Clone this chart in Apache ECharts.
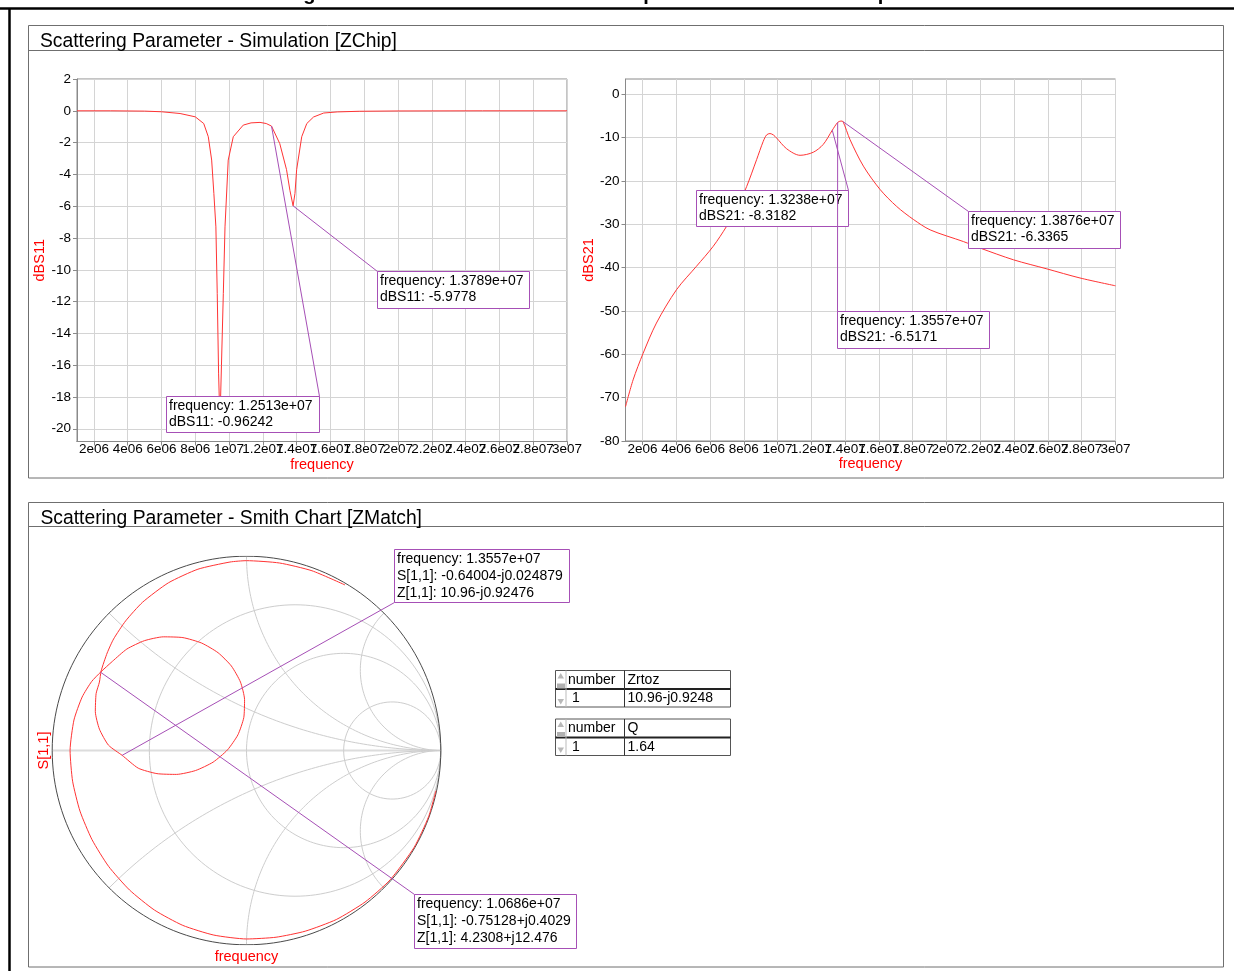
<!DOCTYPE html>
<html>
<head>
<meta charset="utf-8">
<script src="https://cdn.jsdelivr.net/npm/echarts@6/dist/echarts.min.js"></script>
<style>
  html, body { margin: 0; padding: 0; background: #ffffff; }
  #c { width: 1234px; height: 971px; }
</style>
</head>
<body>
<div id="c"></div>
<script>
// ---------------- data ----------------
// frequency tick positions (Hz) shared by both S-parameter plots
const freqTicks = [2e6, 4e6, 6e6, 8e6, 1e7, 1.2e7, 1.4e7, 1.6e7, 1.8e7, 2e7, 2.2e7, 2.4e7, 2.6e7, 2.8e7, 3e7];
const s11Ticks = [2, 0, -2, -4, -6, -8, -10, -12, -14, -16, -18, -20];
const s21Ticks = [0, -10, -20, -30, -40, -50, -60, -70, -80];

// dBS11 sweep
const s11Freq = [1.0e6, 3.0e6, 5.0e6, 6.0e6, 7.1e6, 8.0e6, 8.5e6, 8.77e6, 8.97e6, 9.1e6, 9.22e6, 9.3e6, 9.38e6, 9.46e6,
  9.55e6, 9.66e6, 9.76e6, 9.95e6, 1.025e7, 1.084e7, 1.13e7, 1.183e7, 1.22e7, 1.2513e7, 1.3e7, 1.34e7, 1.36e7, 1.3789e7,
  1.39e7, 1.40e7, 1.43e7, 1.46e7, 1.50e7, 1.56e7, 1.64e7, 1.77e7, 2.0e7, 2.5e7, 3.0e7];
const s11dB = [0, 0, -0.02, -0.06, -0.17, -0.38, -0.8, -1.63, -3.1, -5.2, -7.3, -11.5, -16.5, -19.6,
  -16.0, -11.5, -7.3, -3.1, -1.63, -0.9, -0.76, -0.73, -0.8, -0.96242, -2.06, -3.7, -5.0, -5.9778,
  -5.2, -3.7, -1.63, -0.8, -0.39, -0.14, -0.07, -0.03, -0.01, 0, 0];

// dBS21 sweep
const s21Freq = [1.0e6, 1.45e6, 2.04e6, 2.83e6, 4.02e6, 5.2e6, 6.19e6, 6.98e6, 7.6e6, 8.17e6, 8.76e6, 9.15e6, 9.35e6,
  9.55e6, 9.75e6, 9.94e6, 1.054e7, 1.133e7, 1.211e7, 1.27e7, 1.3238e7, 1.3557e7, 1.375e7, 1.3876e7, 1.429e7,
  1.508e7, 1.607e7, 1.705e7, 1.804e7, 1.903e7, 2.1e7, 2.199e7, 2.396e7, 2.594e7, 2.79e7, 3.0e7];
const s21dB = [-72.1, -65.9, -59.8, -52.8, -45.1, -39.7, -35.1, -30.5, -26.2, -21.3, -15.1, -10.9, -9.4,
  -9.08, -9.4, -10.1, -12.6, -14.1, -13.4, -11.6, -8.3182, -6.5171, -6.2, -6.3365, -10.5,
  -16.6, -22.0, -25.9, -28.9, -31.3, -34.0, -35.5, -38.2, -40.3, -42.4, -44.2];

// S[1,1] trajectory on the Smith chart (real, imaginary), in sweep order
const smithRe = [0.975, 0.937, 0.863, 0.739, 0.610, 0.462, 0.302, 0.152, 0.0, -0.168, -0.328, -0.474, -0.602, -0.710,
  -0.795, -0.857, -0.895, -0.908, -0.888, -0.846, -0.797, -0.75128,
  -0.690, -0.616, -0.526, -0.428, -0.327, -0.231, -0.146, -0.078, -0.031, -0.010, -0.014, -0.044, -0.098, -0.172,
  -0.262, -0.360, -0.461, -0.557, -0.64004, -0.710, -0.757, -0.778, -0.774, -0.757, -0.748,
  -0.717, -0.684, -0.622, -0.535, -0.402, -0.250, -0.085, 0.0, 0.170, 0.337, 0.507];
const smithIm = [-0.207, -0.341, -0.498, -0.666, -0.780, -0.870, -0.930, -0.961, -0.970, -0.950, -0.900, -0.821, -0.718, -0.596,
  -0.459, -0.312, -0.158, 0.0, 0.157, 0.275, 0.355, 0.4029,
  0.459, 0.522, 0.565, 0.585, 0.581, 0.553, 0.503, 0.435, 0.352, 0.262, 0.169, 0.081, 0.003, -0.060,
  -0.103, -0.123, -0.119, -0.091, -0.024879, 0.027, 0.110, 0.200, 0.293, 0.352, 0.410,
  0.502, 0.574, 0.667, 0.763, 0.863, 0.933, 0.970, 0.977, 0.965, 0.925, 0.852];

// marker readouts
const s11MarkFreq = [1.2513e7, 1.3789e7];
const s11MarkVal = [-0.96242, -5.9778];
const s21MarkFreq = [1.3238e7, 1.3557e7, 1.3876e7];
const s21MarkVal = [-8.3182, -6.5171, -6.3365];
const smithMarkFreq = [1.3557e7, 1.0686e7];
const smithMarkRe = [-0.64004, -0.75128];
const smithMarkIm = [-0.024879, 0.4029];
const smithMarkZ = ['10.96-j0.92476', '4.2308+j12.476'];

// result tables
const zrtozHeader = ['number', 'Zrtoz'];
const zrtozRow = ['1', '10.96-j0.9248'];
const qHeader = ['number', 'Q'];
const qRow = ['1', '1.64'];

// ---------------- styling ----------------
const FONT = '"Liberation Sans", Arial, Helvetica, sans-serif';
const RED = '#ff0000';
const CURVE = '#ff3434';
const PURPLE = '#a64fb6';
const SPLIT = '#d4d4d4';
const AXIS = '#8a8a8a';
const PANEL = '#6f6f6f';

function fmtTick(v) {
  const e = Math.floor(Math.log10(v) + 1e-9);
  const m = +(v / Math.pow(10, e)).toFixed(3);
  return m + 'e' + String(e).padStart(2, '0');
}
function fmtFreq(f) {
  const parts = f.toExponential(4).split('e');
  return parts[0] + 'e' + parts[1][0] + parts[1].slice(1).padStart(2, '0');
}
function fmtComplex(re, im) {
  return re + (im < 0 ? '-j' : '+j') + Math.abs(im);
}
function zip(a, b) { return a.map((v, i) => [v, b[i]]); }

// The frequency labels are denser than their own width, so they run into each other.
// Alternate ticks go on two coincident bottom axes so every label is kept.
const freqTicksA = freqTicks.filter((v, i) => i % 2 === 0);
const freqTicksB = freqTicks.filter((v, i) => i % 2 === 1);

function freqAxis(gridIndex, ticks, withName) {
  return {
    type: 'value', gridIndex, min: 1e6, max: 3e7, position: 'bottom', offset: 0,
    name: withName ? 'frequency' : '', nameLocation: 'middle', nameGap: 15,
    nameTextStyle: { color: RED, fontSize: 14.5, fontFamily: FONT },
    axisLine: { show: true, onZero: false, lineStyle: { color: AXIS } },
    axisTick: { show: true, length: 4, customValues: ticks, lineStyle: { color: AXIS } },
    axisLabel: { customValues: ticks, formatter: fmtTick, color: '#000', fontSize: 13.5, fontFamily: FONT,
      margin: 1, showMinLabel: true, showMaxLabel: true, hideOverlap: false },
    splitLine: { show: true, lineStyle: { color: SPLIT } }
  };
}
function dbAxis(gridIndex, min, max, ticks, name) {
  return {
    type: 'value', gridIndex, min, max,
    name, nameLocation: 'middle', nameGap: 20,
    nameTextStyle: { color: RED, fontSize: 14.5, fontFamily: FONT },
    axisLine: { show: true, onZero: false, lineStyle: { color: AXIS } },
    axisTick: { show: true, length: 4, customValues: ticks, lineStyle: { color: AXIS } },
    axisLabel: { customValues: ticks, color: '#000', fontSize: 13.5, fontFamily: FONT, margin: 6,
      showMinLabel: true, showMaxLabel: true },
    splitLine: { show: true, lineStyle: { color: SPLIT } }
  };
}
function smithAxis(gridIndex, name, gap) {
  return {
    type: 'value', gridIndex, min: -1, max: 1, name, nameLocation: 'middle', nameGap: gap,
    nameTextStyle: { color: RED, fontSize: 14.5, fontFamily: FONT },
    axisLine: { show: false, onZero: false }, axisTick: { show: false }, axisLabel: { show: false }, splitLine: { show: false }
  };
}

// Smith chart coordinate grid: constant-resistance circles and constant-reactance arcs
function resistanceCircle(r) {
  const cx = r / (1 + r), rad = 1 / (1 + r), pts = [];
  for (let i = 0; i <= 360; i += 2) {
    const a = i * Math.PI / 180;
    pts.push([cx + rad * Math.cos(a), rad * Math.sin(a)]);
  }
  return pts;
}
function reactanceArc(x) {
  const c = 1 / Math.abs(x), pts = [];
  for (let d = -90; d >= -270; d -= 0.5) {
    const a = d * Math.PI / 180;
    const re = 1 + c * Math.cos(a), im = c + c * Math.sin(a);
    if (re * re + im * im > 1.0005) break;
    pts.push([re, x > 0 ? im : -im]);
  }
  return pts;
}
const smithR = [1 / 3, 1, 3];
const smithX = [Math.SQRT2 - 1, 1, Math.SQRT2 + 1];

function gridSeries(data, color, width) {
  return {
    type: 'line', xAxisIndex: 2, yAxisIndex: 2, data, showSymbol: false, silent: true,
    lineStyle: { color, width }, z: 1
  };
}

const series = [
  { type: 'line', xAxisIndex: 0, yAxisIndex: 0, data: zip(s11Freq, s11dB), showSymbol: false,
    lineStyle: { color: CURVE, width: 1 }, z: 3 },
  { type: 'line', xAxisIndex: 1, yAxisIndex: 1, data: zip(s21Freq, s21dB), showSymbol: false, smooth: 0.3,
    lineStyle: { color: CURVE, width: 1 }, z: 3 },
  gridSeries([[-1, 0], [1, 0]], '#dcdcdc', 2)
];
smithR.forEach(r => series.push(gridSeries(resistanceCircle(r), '#cdcdcd', 1)));
smithX.forEach(x => { series.push(gridSeries(reactanceArc(x), '#cdcdcd', 1)); series.push(gridSeries(reactanceArc(-x), '#cdcdcd', 1)); });
series.push(gridSeries(resistanceCircle(0), '#4a4a4a', 1));
series.push({ type: 'line', xAxisIndex: 2, yAxisIndex: 2, data: zip(smithRe, smithIm), showSymbol: false, smooth: 0.2,
  lineStyle: { color: CURVE, width: 1 }, z: 3 });

const chart = echarts.init(document.getElementById('c'), null, { renderer: 'canvas' });
chart.setOption({
  animation: false,
  backgroundColor: '#ffffff',
  textStyle: { fontFamily: FONT },
  grid: [
    { left: 77, top: 79, width: 490, height: 362.5, show: true, borderColor: AXIS, borderWidth: 1, outerBoundsMode: 'none' },
    { left: 625.5, top: 79, width: 490, height: 362, show: true, borderColor: AXIS, borderWidth: 1, outerBoundsMode: 'none' },
    { left: 52.2, top: 556.2, width: 388.6, height: 388.6, show: false, outerBoundsMode: 'none' }
  ],
  xAxis: [
    freqAxis(0, freqTicksA, true), freqAxis(1, freqTicksA, true), smithAxis(2, 'frequency', 5),
    freqAxis(0, freqTicksB, false), freqAxis(1, freqTicksB, false)
  ],
  yAxis: [
    dbAxis(0, -20.8, 2, s11Ticks, 'dBS11'),
    dbAxis(1, -80, 3.5, s21Ticks, 'dBS21'),
    smithAxis(2, 'S[1,1]', 1)
  ],
  series
});

// ---------------- panels, readouts, tables ----------------
const els = [];
const leaders = [];
const txt = (x, y, text, size, extra) => ({
  type: 'text', x, y, z: 101,
  style: Object.assign({ text, fontSize: size, fontFamily: FONT, fill: '#000', verticalAlign: 'middle', align: 'left' }, extra || {})
});
const line = (x1, y1, x2, y2, stroke, w, z) => ({ type: 'line', z: z || 50, shape: { x1, y1, x2, y2 }, style: { stroke, lineWidth: w || 1 } });
const rect = (x, y, width, height, stroke, fill, z, w) => ({ type: 'rect', z: z || 50, shape: { x, y, width, height }, style: { stroke, fill: fill || 'none', lineWidth: w || 1 } });

// figure caption (runs off the top edge) and frame
els.push(txt(620, -5.5, 'Figure 18. Simulation results of the S parameters and the ZChip model', 20, { fontWeight: 'bold', align: 'center' }));
els.push(line(0, 8.5, 1234, 8.5, '#000', 2.5));
els.push(line(9.5, 8, 9.5, 971, '#000', 2.5));

// panel boxes with header rules
els.push(rect(28.5, 25.5, 1195, 452.5, PANEL, 'none', 5));
els.push(line(28.5, 50.5, 1223.5, 50.5, PANEL, 1));
els.push(txt(40, 41.6, 'Scattering Parameter - Simulation [ZChip]', 19.3));
els.push(rect(28.5, 502.5, 1195, 464.5, PANEL, 'none', 5));
els.push(line(28.5, 526.5, 1223.5, 526.5, PANEL, 1));
els.push(txt(40.5, 518.4, 'Scattering Parameter - Smith Chart [ZMatch]', 19.3));

// marker readout: box, text lines and a leader back to the marked point
function readout(gridIndex, x, y, box, corner, lines, lh) {
  const p = chart.convertToPixel({ gridIndex }, [x, y]);
  const [bx, by, bw, bh] = box;
  els.push(rect(bx, by, bw, bh, PURPLE, '#ffffff', 100));
  lines.forEach((t, i) => els.push(txt(bx + 2.5, by + 9.5 + i * lh, t, 14)));
  const cx = corner.indexOf('right') >= 0 ? bx + bw : bx;
  const cy = corner.indexOf('bottom') >= 0 ? by + bh : by;
  leaders.push(line(p[0], p[1], cx, cy, PURPLE, 1, 110));
}
const s11Boxes = [[166.5, 396.5, 153, 36], [377.5, 271.5, 152, 37]];
const s11Corners = ['top-right', 'top-left'];
s11MarkFreq.forEach((f, i) => readout(0, f, s11MarkVal[i], s11Boxes[i], s11Corners[i],
  ['frequency: ' + fmtFreq(f), 'dBS11: ' + s11MarkVal[i]], 16.5));
const s21Boxes = [[696.5, 190.5, 152, 36], [837.5, 311.5, 152, 37], [968.5, 211.5, 152, 37]];
const s21Corners = ['top-right', 'top-left', 'top-left'];
s21MarkFreq.forEach((f, i) => readout(1, f, s21MarkVal[i], s21Boxes[i], s21Corners[i],
  ['frequency: ' + fmtFreq(f), 'dBS21: ' + s21MarkVal[i]], 16.5));
const smithBoxes = [[394.5, 549.5, 175, 53], [414.5, 894.5, 162, 54]];
const smithCorners = ['bottom-left', 'top-left'];
smithMarkFreq.forEach((f, i) => readout(2, smithMarkRe[i], smithMarkIm[i], smithBoxes[i], smithCorners[i],
  ['frequency: ' + fmtFreq(f), 'S[1,1]: ' + fmtComplex(smithMarkRe[i], smithMarkIm[i]), 'Z[1,1]: ' + smithMarkZ[i]], 17));

// small result tables with a scroll gutter on the left
function table(top, header, row) {
  const left = 555.5, right = 730.5, mid = top + 18.5, bottom = top + 36.5, col = 624.5;
  els.push(rect(left, top, right - left, bottom - top, '#555', '#fff', 60));
  els.push(line(left, mid, right, mid, '#222', 1.8, 61));
  els.push(line(col, top, col, bottom, '#333', 1, 61));
  els.push(line(566, top, 566, bottom, '#bbbbbb', 1, 61));
  // scroll gutter arrows and thumb
  els.push({ type: 'polygon', z: 62, shape: { points: [[557.5, top + 8], [564, top + 8], [560.75, top + 2.5]] }, style: { fill: '#b8b8b8' } });
  els.push(rect(557, top + 13, 8, 5, 'none', '#b0b0b0', 62));
  els.push({ type: 'polygon', z: 62, shape: { points: [[557.5, bottom - 8], [564, bottom - 8], [560.75, bottom - 2.5]] }, style: { fill: '#b8b8b8' } });
  els.push(txt(568, top + 9.5, header[0], 14));
  els.push(txt(627.5, top + 9.5, header[1], 14));
  els.push(txt(572, mid + 9.5, row[0], 14));
  els.push(txt(627.5, mid + 9.5, row[1], 14));
}
table(670.5, zrtozHeader, zrtozRow);
table(719, qHeader, qRow);

chart.setOption({ graphic: { elements: els.concat(leaders) } });
</script>
</body>
</html>
